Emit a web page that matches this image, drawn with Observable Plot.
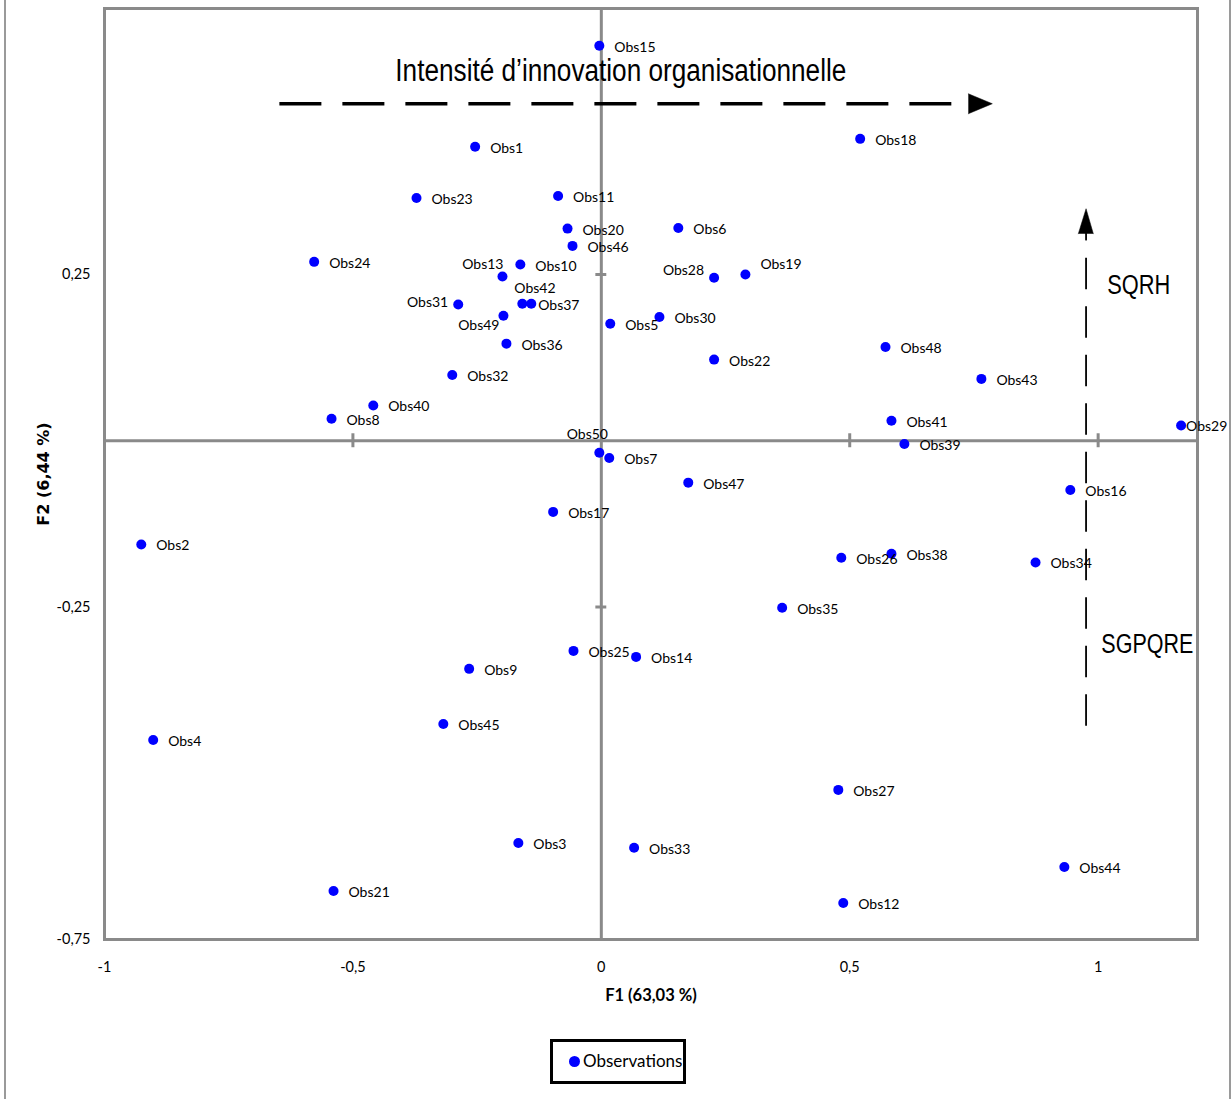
<!DOCTYPE html>
<html>
<head>
<meta charset="utf-8">
<script src="https://cdn.jsdelivr.net/npm/d3@7"></script>
<script src="https://cdn.jsdelivr.net/npm/@observablehq/plot@0.6"></script>
<style>
  html, body { margin: 0; padding: 0; background: #fff; }
  #wrap { position: relative; width: 1232px; height: 1099px; overflow: hidden; background: #fff; }
  #chart { position: absolute; left: 0; top: 0; z-index: 1; }
  .edge { position: absolute; top: 0; width: 2px; height: 1099px; background: #9a9a9a; z-index: 2; }
  #legend { position: absolute; left: 550px; top: 1039px; width: 136px; height: 45px; box-sizing: border-box; z-index: 3;
            border: 3px solid #000; background: #fff; font-family: Lato, sans-serif; font-size: 17px; color: #000; }
  #legend .sw { position: absolute; left: 16px; top: 14px; width: 11px; height: 11px; border-radius: 50%; background: #0000ff; }
  #legend .lab { position: absolute; left: 30px; top: 8px; line-height: 22px; white-space: nowrap; }
</style>
</head>
<body>
<div id="wrap">
  <div id="chart"></div>
  <div class="edge" style="left:4px"></div>
  <div class="edge" style="left:1229px"></div>
  <div id="legend"><span class="sw"></span><span class="lab">Observations</span></div>
</div>
<script>
// ---- Data ----
const obsNames = ["Obs1","Obs2","Obs3","Obs4","Obs5","Obs6","Obs7","Obs8","Obs9","Obs10",
  "Obs11","Obs12","Obs13","Obs14","Obs15","Obs16","Obs17","Obs18","Obs19","Obs20",
  "Obs21","Obs22","Obs23","Obs24","Obs25","Obs26","Obs27","Obs28","Obs29","Obs30",
  "Obs31","Obs32","Obs33","Obs34","Obs35","Obs36","Obs37","Obs38","Obs39","Obs40",
  "Obs41","Obs42","Obs43","Obs44","Obs45","Obs46","Obs47","Obs48","Obs49","Obs50"];
const f1 = [-0.254,-0.926,-0.167,-0.902,0.018,0.155,0.016,-0.543,-0.266,-0.163,
  -0.087,0.487,-0.199,0.070,-0.004,0.944,-0.097,0.521,0.290,-0.068,
  -0.539,0.227,-0.372,-0.578,-0.056,0.483,0.477,0.227,1.167,0.117,
  -0.288,-0.300,0.066,0.874,0.364,-0.191,-0.141,0.584,0.610,-0.459,
  0.584,-0.159,0.765,0.932,-0.318,-0.058,0.175,0.572,-0.197,-0.004];
const f2 = [0.442,-0.156,-0.605,-0.450,0.176,0.320,-0.026,0.033,-0.343,0.265,
  0.368,-0.695,0.247,-0.325,0.594,-0.074,-0.107,0.454,0.250,0.319,
  -0.677,0.122,0.365,0.269,-0.316,-0.176,-0.525,0.245,0.023,0.186,
  0.205,0.099,-0.612,-0.183,-0.251,0.146,0.206,-0.170,-0.005,0.053,
  0.030,0.206,0.093,-0.641,-0.426,0.293,-0.063,0.141,0.188,-0.018];

const xTicks = [-1, -0.5, 0, 0.5, 1];
const yTicks = [-0.75, -0.25, 0.25];
const xAxisMarks = [-0.5, 0.5, 1];
const yAxisMarks = [0.25, -0.25];

const xTitle = "F1 (63,03 %)";
const yTitle = "F2 (6,44 %)";
const annTitle = "Intensité d’innovation organisationnelle";
const annTop = "SQRH";
const annBottom = "SGPQRE";

// ---- Annotation geometry (data units) ----
const hArrowLine = [{x: -0.648, y: 0.5068}, {x: 0.7045, y: 0.5068}];
const hArrowHead = [{x: 0.7387, y: 0.5218}, {x: 0.787, y: 0.5068}, {x: 0.7387, y: 0.4917}];
const vArrowLine = [{x: 0.9757, y: 0.2752}, {x: 0.9757, y: -0.4286}];
const vArrowStem = [{x: 0.9757, y: 0.3113}, {x: 0.9757, y: 0.3023}];
const vArrowHead = [{x: 0.9601, y: 0.3113}, {x: 0.9757, y: 0.3489}, {x: 0.9903, y: 0.3113}];
const annTitlePos = {x: 0.0393, y: 0.5564};
const annTopPos = {x: 1.0185, y: 0.2331};
const annBottomPos = {x: 1.0064, y: -0.3068};

// label placement tweaks (pixels)
const labelAdjust = {
  Obs13: {anchor: "end", dx: 1, dy: -12},
  Obs42: {anchor: "start", dx: -8, dy: -15},
  Obs31: {anchor: "end", dx: -10, dy: -2},
  Obs49: {anchor: "end", dx: -4, dy: 10},
  Obs37: {anchor: "start", dx: 7, dy: 1.5},
  Obs28: {anchor: "end", dx: -10, dy: -7},
  Obs19: {anchor: "start", dx: 15, dy: -10},
  Obs50: {anchor: "middle", dx: -12, dy: -18},
  Obs29: {anchor: "start", dx: 5, dy: 1.5}
};

const obs = obsNames.map((name, i) => ({name, f1: f1[i], f2: f2[i]}));
const gray = "#8a8a8a";
const fmt = d => String(d).replace(".", ",");
const arialN = "'Liberation Sans Narrow', 'Liberation Sans', Arial, sans-serif";

const labelMarks = [
  Plot.text(obs.filter(d => !labelAdjust[d.name]), {
    x: "f1", y: "f2", text: "name", dx: 15, dy: 1.5, textAnchor: "start",
    fontSize: 14, fontFamily: "Lato", fill: "#000"
  }),
  ...Object.entries(labelAdjust).map(([k, a]) =>
    Plot.text(obs.filter(d => d.name === k), {
      x: "f1", y: "f2", text: "name", dx: a.dx, dy: a.dy, textAnchor: a.anchor,
      fontSize: 14, fontFamily: "Lato", fill: "#000"
    }))
];

const chart = Plot.plot({
  width: 1232,
  height: 1030,
  marginLeft: 104,
  marginRight: 35,
  marginTop: 8,
  marginBottom: 91,
  x: {domain: [-1, 1.2]},
  y: {domain: [-0.75, 0.65]},
  style: {fontFamily: "Lato", fontSize: "14px", background: "white", color: "#000"},
  marks: [
    Plot.ruleX([0], {stroke: gray, strokeWidth: 3}),
    Plot.ruleY([0], {stroke: gray, strokeWidth: 3}),
    Plot.ruleX(xAxisMarks, {x: d => d, y1: -0.0105, y2: 0.0105, stroke: gray, strokeWidth: 3}),
    Plot.ruleY(yAxisMarks, {y: d => d, x1: -0.011, x2: 0.011, stroke: gray, strokeWidth: 3}),
    Plot.frame({stroke: gray, strokeWidth: 3}),
    Plot.axisX({ticks: xTicks, tickSize: 0, tickPadding: 22, tickFormat: fmt, label: null, fontSize: 14.5}),
    Plot.axisY({ticks: yTicks, tickSize: 0, tickPadding: 14, tickFormat: fmt, label: null, fontSize: 14.5}),
    Plot.text([xTitle], {frameAnchor: "bottom", dy: 61, textAnchor: "middle", fontWeight: "bold", fontSize: 16.5, fontFamily: "Lato", fill: "#000"}),
    Plot.text([yTitle], {frameAnchor: "left", dx: -61, rotate: -90, textAnchor: "middle", fontWeight: "bold", fontSize: 16, fontFamily: "DejaVu Sans", fill: "#000"}),
    // annotations
    Plot.line(hArrowLine, {x: "x", y: "y", stroke: "#000", strokeWidth: 3.5, strokeDasharray: "42,21", strokeLinecap: "butt"}),
    Plot.line(hArrowHead, {x: "x", y: "y", fill: "#000", stroke: "#000", strokeWidth: 0.5}),
    Plot.line(vArrowLine, {x: "x", y: "y", stroke: "#000", strokeWidth: 1.8, strokeDasharray: "31.5,17", strokeLinecap: "butt"}),
    Plot.line(vArrowStem, {x: "x", y: "y", stroke: "#000", strokeWidth: 1.8}),
    Plot.line(vArrowHead, {x: "x", y: "y", fill: "#000", stroke: "#000", strokeWidth: 0.5}),
    Plot.text([annTitlePos], {x: "x", y: "y", text: () => annTitle, textAnchor: "middle", fontSize: 31,
      fontFamily: arialN, fill: "#000"}),
    Plot.text([annTopPos], {x: "x", y: "y", text: () => annTop, textAnchor: "start", fontSize: 27,
      fontFamily: arialN, fill: "#000"}),
    Plot.text([annBottomPos], {x: "x", y: "y", text: () => annBottom, textAnchor: "start", fontSize: 27,
      fontFamily: arialN, fill: "#000"}),
    // observations
    Plot.dot(obs, {x: "f1", y: "f2", r: 5, fill: "#0000ff", stroke: null}),
    ...labelMarks
  ]
});

document.getElementById("chart").appendChild(chart);

// narrow the Arial-style annotation texts to the reference widths
const fitWidths = new Map([[annTitle, 451], [annTop, 63], [annBottom, 92]]);
chart.querySelectorAll("text").forEach(t => {
  const w = fitWidths.get(t.textContent);
  if (w) {
    t.setAttribute("textLength", w);
    t.setAttribute("lengthAdjust", "spacingAndGlyphs");
  }
});
</script>
</body>
</html>
